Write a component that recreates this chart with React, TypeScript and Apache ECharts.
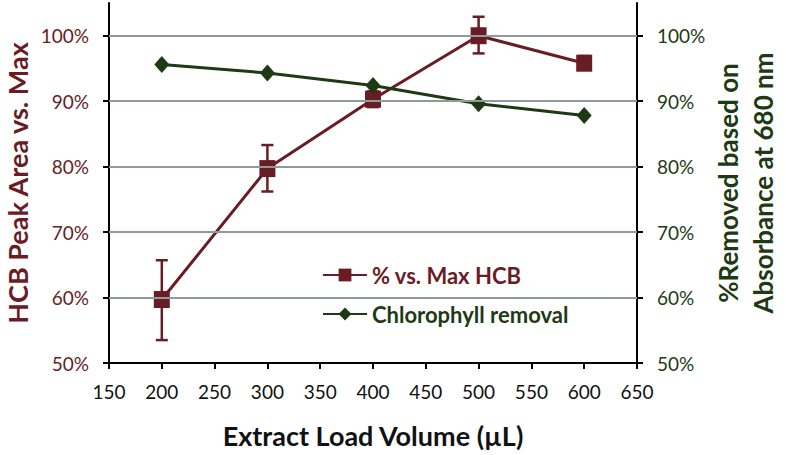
import React, { useEffect, useRef } from "react";
import * as echarts from "echarts";

const xValues = [200, 300, 400, 500, 600];
const hcbValues = [59.7, 79.7, 90.3, 100.0, 95.8];
const hcbErrLow = [53.5, 76.2, 89.1, 97.3, 94.8];
const hcbErrHigh = [65.7, 83.3, 91.5, 102.9, 96.9];
const chlValues = [95.6, 94.3, 92.4, 89.6, 87.8];
const yTicks = [50, 60, 70, 80, 90, 100];
const gridLines = [60, 70, 80, 90, 100];

const MAROON = "#6a1c25";
const GREEN = "#1e3a14";
const FONT = "Lato";

export default function App() {
  const ref = useRef<HTMLDivElement>(null);
  useEffect(() => {
    if (!ref.current) return;
    const chart = echarts.init(ref.current, null, { renderer: "svg" });
    const yAxisBase = (color: string) => ({
      type: "value" as const,
      min: 50,
      max: 105,
      interval: 10,
      splitLine: { show: false },
      axisLine: { show: true, lineStyle: { color: "#000", width: 2 } },
      axisTick: { show: true, length: 6, lineStyle: { color: "#000", width: 2 }, customValues: yTicks },
      axisLabel: {
        color,
        fontFamily: FONT,
        fontSize: 19,
        margin: 20,
        customValues: yTicks,
        formatter: (v: number) => (v > 100 ? "" : v + "%"),
      },
      nameLocation: "middle" as const,
      nameMoveOverlap: false,
    });
    chart.setOption({
      animation: false,
      backgroundColor: "#fff",
      grid: { left: 109, right: 149, top: 3, bottom: 92, containLabel: false, outerBoundsMode: "none" },
      legend: {
        orient: "vertical",
        left: 317,
        top: 259,
        itemWidth: 44,
        itemHeight: 16,
        itemGap: 17,
        textStyle: { fontFamily: FONT, fontSize: 22, fontWeight: "bold" },
        data: [
          { name: "% vs. Max HCB", textStyle: { color: MAROON } },
          { name: "Chlorophyll removal", textStyle: { color: GREEN } },
        ],
      },
      xAxis: {
        type: "value",
        min: 150,
        max: 650,
        interval: 50,
        splitLine: { show: false },
        axisLine: { lineStyle: { color: "#000", width: 2 } },
        axisTick: { show: true, length: 6, lineStyle: { color: "#000", width: 2 } },
        axisLabel: { color: "#111", fontFamily: FONT, fontSize: 19, margin: 19 },
        name: "Extract Load Volume (µL)",
        nameLocation: "middle",
        nameGap: 59,
        nameMoveOverlap: false,
        nameTextStyle: { color: "#111", fontFamily: FONT, fontSize: 27, fontWeight: "bold" },
      },
      yAxis: [
        {
          ...yAxisBase(MAROON),
          position: "left",
          name: "HCB Peak Area vs. Max",
          nameGap: 78,
          nameRotate: 90,
          nameTextStyle: { color: MAROON, fontFamily: FONT, fontSize: 27, fontWeight: "bold", lineHeight: 27 },
        },
        {
          ...yAxisBase(GREEN),
          position: "right",
          name: "%Removed based on\nAbsorbance at 680 nm",
          nameGap: 73,
          nameRotate: 90,
          nameTextStyle: { color: GREEN, fontFamily: FONT, fontSize: 26, fontWeight: "bold", lineHeight: 35 },
        },
      ],
      series: [
        {
          name: "grid",
          type: "line",
          data: [],
          silent: true,
          markLine: {
            silent: true,
            symbol: "none",
            label: { show: false },
            lineStyle: { color: "#8d9b9b", width: 2, type: "solid" },
            data: gridLines.map((v) => ({ yAxis: v })),
          },
          z: 1,
        },
        {
          name: "% vs. Max HCB",
          type: "line",
          yAxisIndex: 0,
          data: xValues.map((x, i) => [x, hcbValues[i]]),
          symbol: "rect",
          symbolSize: [16, 17],
          itemStyle: { color: MAROON },
          lineStyle: { color: MAROON, width: 3 },
          z: 3,
        },
        {
          name: "hcbErr",
          type: "custom",
          yAxisIndex: 0,
          data: xValues.map((x, i) => [x, hcbErrLow[i], hcbErrHigh[i]]),
          renderItem: (params: any, api: any) => {
            const lo = api.coord([api.value(0), api.value(1)]);
            const hi = api.coord([api.value(0), api.value(2)]);
            const hw = 6;
            const style = { stroke: MAROON, lineWidth: 2.5, fill: "none" };
            return {
              type: "group",
              children: [
                { type: "line", shape: { x1: lo[0], y1: lo[1], x2: hi[0], y2: hi[1] }, style },
                { type: "line", shape: { x1: lo[0] - hw, y1: lo[1], x2: lo[0] + hw, y2: lo[1] }, style },
                { type: "line", shape: { x1: hi[0] - hw, y1: hi[1], x2: hi[0] + hw, y2: hi[1] }, style },
              ],
            };
          },
          z: 3,
        },
        {
          name: "Chlorophyll removal",
          type: "line",
          yAxisIndex: 1,
          data: xValues.map((x, i) => [x, chlValues[i]]),
          symbol: "diamond",
          symbolSize: [15, 17],
          itemStyle: { color: GREEN },
          lineStyle: { color: GREEN, width: 3 },
          z: 4,
        },
      ],
    });
    return () => chart.dispose();
  }, []);
  return <div ref={ref} style={{ width: 786, height: 455, position: "absolute", left: 0, top: 0 }} />;
}
